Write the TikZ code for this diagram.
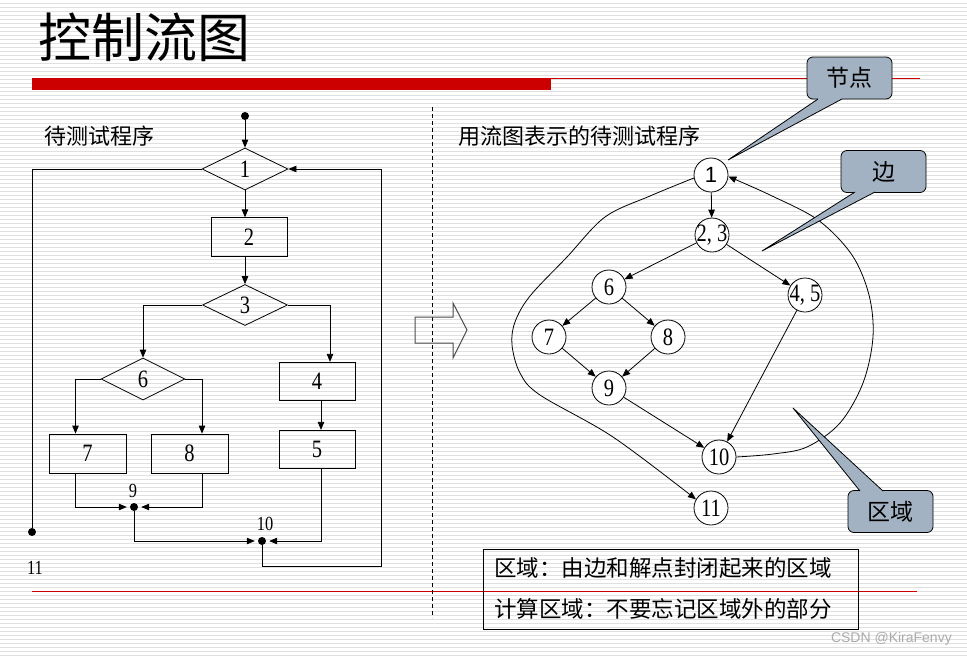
\documentclass[tikz,border=0pt]{standalone}
\usepackage{graphicx}
\usepackage{fontspec}
\setmainfont{Liberation Serif}
\setsansfont{Liberation Sans}
\newfontfamily\cjk{Noto Sans CJK SC}
\usetikzlibrary{shapes.geometric,arrows.meta}
\definecolor{stripegray}{RGB}{224,224,224}
\definecolor{calloutfill}{RGB}{163,178,194}
\definecolor{pptred}{RGB}{204,0,0}
\definecolor{wmgray}{RGB}{170,170,170}
\newcommand{\nd}[1]{\scalebox{0.82}[1]{#1}}
\begin{document}
\begin{tikzpicture}[x=1pt,y=-1pt,
  base/.style={line width=0.8pt},
  arr/.style={line width=0.8pt,-{Triangle[length=8pt,width=6.5pt]}},
  dia/.style={diamond,draw,line width=0.8pt,inner sep=0pt,minimum width=86pt,minimum height=42pt,font=\fontsize{25}{25}\selectfont},
  fbox/.style={rectangle,draw,line width=0.8pt,inner sep=0pt,minimum width=76pt,minimum height=38.5pt,font=\fontsize{25}{25}\selectfont},
  jdot/.style={circle,fill,inner sep=0pt,minimum size=8pt},
  gnode/.style={circle,draw,fill=white,line width=0.8pt,inner sep=0pt,minimum size=34pt,font=\fontsize{25}{25}\selectfont},
  callout/.style={rectangle,rounded corners=6pt,draw,fill=calloutfill,line width=0.8pt,minimum width=85pt,minimum height=42pt,inner sep=0pt,font=\cjk\fontsize{23}{23}\selectfont},
  lbl/.style={inner sep=0pt,font=\fontsize{20}{20}\selectfont},
  cjktext/.style={inner sep=0pt,anchor=west,font=\cjk\fontsize{22}{22}\selectfont}]
\useasboundingbox (0,0) rectangle (967,656);
\fill[white] (0,0) rectangle (967,656);
\foreach \k in {0,...,163} \draw[stripegray,line width=1pt] (0,3.5+4*\k) -- (967,3.5+4*\k);

% title and rules
\node[anchor=west,inner sep=0pt,font=\cjk\fontsize{53}{53}\selectfont] (title) at (38,37) {控制流图};
\fill[pptred] (32,78) rectangle (551,90);
\draw[pptred,line width=1pt] (551,78.5) -- (920,78.5);
\draw[pptred,line width=1pt] (32,591) -- (917,591);
\draw[dash pattern=on 4pt off 3pt,line width=0.8pt] (432,107) -- (432,618);

% left flowchart
\node[cjktext] (lt1) at (44,136) {待测试程序};
\node[jdot] (s) at (245,116) {};
\node[dia] (d1) at (245,169) {\nd{1}};
\node[fbox] (b2) at (249,237) {\nd{2}};
\node[dia,minimum width=85pt,minimum height=41pt] (d3) at (245,305) {\nd{3}};
\node[dia,minimum width=84pt] (d6) at (143,379) {\nd{6}};
\node[fbox] (b4) at (317,381.5) {\nd{4}};
\node[fbox] (b5) at (317,449.5) {\nd{5}};
\node[fbox,minimum width=77pt,minimum height=39pt] (b7) at (87.5,453.5) {\nd{7}\hspace{12pt}};
\node[fbox,minimum width=77pt,minimum height=39pt] (b8) at (189.5,453.5) {\nd{8}};
\node[jdot] (p9) at (134,507) {};
\node[jdot] (p10) at (262,541) {};
\node[jdot] (p11) at (32,532) {};
\node[lbl] (l9) at (133,491) {\nd{9}};
\node[lbl] (l10) at (265,524) {\nd{10}};
\node[lbl] (l11) at (35,568) {\nd{11}};

\draw[arr] (s) -- (d1.north);
\draw[arr] (d1.south) -- (d1.south |- b2.north);
\draw[arr] (d3.north |- b2.south) -- (d3.north);
\draw[arr] (d3.west) -| (d6.north);
\draw[arr] (d3.east) -| ([xshift=13pt]b4.north);
\draw[arr] ([xshift=4pt]b4.south) -- ([xshift=4pt]b5.north);
\draw[arr] (d6.west) -| ([xshift=-12pt]b7.north);
\draw[arr] (d6.east) -| ([xshift=12.5pt]b8.north);
\draw[arr,shorten >=3pt] ([xshift=-12pt]b7.south) |- (p9);
\draw[arr,shorten >=3pt] ([xshift=12.5pt]b8.south) |- (p9);
\draw[arr,shorten >=3pt] (p9) |- (p10);
\draw[arr,shorten >=3pt] ([xshift=4pt]b5.south) |- (p10);
\coordinate (rb) at (381,566);
\coordinate (rt) at (381,169);
\draw[arr] (p10) |- (rb) -- (rt) -- (d1.east);
\coordinate (ltc) at (32,169);
\draw[base] (d1.west) -- (ltc) -- (p11);

% hollow arrow
\draw[line width=1pt,black!70] (415,317) -- (453,317) -- (453,303) -- (467,330) -- (453,358) -- (453,343) -- (415,343) -- cycle;

% right graph
\node[cjktext] (rt1) at (458,136) {用流图表示的待测试程序};
\node[gnode,font=\sffamily\fontsize{22}{22}\selectfont] (g1) at (711,175) {1};
\node[gnode] (g23) at (712,235) {\makebox[0pt]{\nd{2, 3}}};
\node[gnode] (g6) at (609,287) {\nd{6}};
\node[gnode] (g45) at (805,295) {\makebox[0pt]{\nd{4, 5}}};
\node[gnode] (g7) at (549,337) {\nd{7}};
\node[gnode] (g8) at (668,337) {\nd{8}};
\node[gnode] (g9) at (609,388) {\nd{9}};
\node[gnode] (g10) at (719,457) {\makebox[0pt]{\nd{10}}};
\node[gnode] (g11) at (711,508) {\makebox[0pt]{\nd{11}}};

\draw[arr] (g1) -- (g23);
\draw[arr] (g23) -- (g6);
\draw[arr] (g23) -- (g45);
\draw[arr] (g6) -- (g7);
\draw[arr] (g6) -- (g8);
\draw[arr] (g7) -- (g9);
\draw[arr] (g8) -- (g9);
\draw[arr] (g9) -- (g10);
\draw[arr] (g45) -- (g10);
\draw[arr] plot[smooth,tension=0.55] coordinates {(g10.east) (773,454) (807,447) (840,423) (863,383) (873,337) (869,295) (852,255) (818,220) (770,195) (g1.-5)};
\draw[arr] plot[smooth,tension=0.55] coordinates {(g1.190) (650,196) (605,217) (567,257) (530,296) (515,322) (512,345) (520,373) (540,395) (613,437) (g11.150)};

% callouts
\node[callout] (c1) at (849.5,78) {节点};
\fill[calloutfill] (818,99) -- (728,160) -- (842,99) -- (842,96) -- (818,96) -- cycle;
\draw[base] (818,99) -- (728,160) -- (842,99);
\node[callout] (c2) at (883.5,171.5) {边};
\fill[calloutfill] (855,192) -- (762,251) -- (875,192) -- (875,189) -- (855,189) -- cycle;
\draw[base] (855,192) -- (762,251) -- (875,192);
\node[callout] (c3) at (890.5,511.5) {区域};
\fill[calloutfill] (860,491) -- (793,408) -- (883,491) -- (883,494) -- (860,494) -- cycle;
\draw[base] (860,491) -- (793,408) -- (883,491);

% bottom text box
\node[draw,line width=0.8pt,minimum width=375pt,minimum height=80pt,inner sep=0pt] (tb) at (670.5,589) {};
\node[cjktext,font=\cjk\fontsize{22.5}{22.5}\selectfont] (tl1) at (494,568) {区域：由边和解点封闭起来的区域};
\node[cjktext,font=\cjk\fontsize{22.5}{22.5}\selectfont] (tl2) at (494,609) {计算区域：不要忘记区域外的部分};

% watermark
\node[anchor=east,inner sep=0pt,text=wmgray,font=\sffamily\fontsize{14}{14}\selectfont] (wm) at (952,639) {CSDN @KiraFenvy};
\end{tikzpicture}
\end{document}
